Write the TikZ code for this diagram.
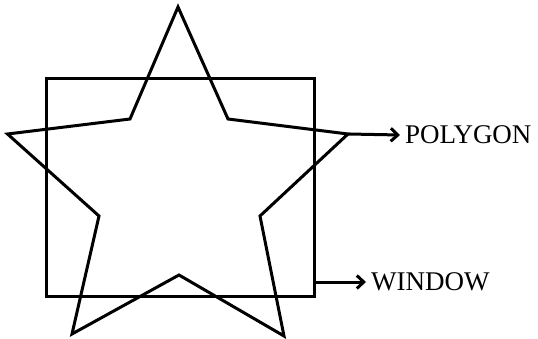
\documentclass[tikz,border=0pt]{standalone}
\usepackage{fontspec}
\setmainfont{Liberation Serif}
\usetikzlibrary{arrows.meta}
\begin{document}
\begin{tikzpicture}[x=1pt,y=-1pt,
  shape line/.style={line width=3pt,line join=miter},
  pointer/.style={line width=3pt,-{Straight Barb[length=7pt,width=13pt,line width=3pt]}},
  label text/.style={font=\fontsize{27}{30}\selectfont,inner sep=0pt,anchor=west}]
\useasboundingbox (0,0) rectangle (538,339);
% star (polygon)
\coordinate (t)  at (178,7);
\coordinate (ur) at (228,119);
\coordinate (r)  at (348,134);
\coordinate (lr) at (260,216);
\coordinate (br) at (284,336);
\coordinate (b)  at (179,275);
\coordinate (bl) at (72,334);
\coordinate (ll) at (99,216);
\coordinate (l)  at (7.5,134);
\coordinate (ul) at (130,119);
\draw[shape line] (t)--(ur)--(r)--(lr)--(br)--(b)--(bl)--(ll)--(l)--(ul)--cycle;
% window
\draw[shape line] (46,79) rectangle (314,296);
\coordinate (w) at (314,282);
% labels
\node[label text] (poly) at (405,135) {POLYGON};
\node[label text] (win) at (371,282) {WINDOW};
\draw[pointer] (r) -- ([xshift=-5pt]poly.west);
\draw[pointer] (w) -- ([xshift=-5pt]win.west);
\end{tikzpicture}
\end{document}
